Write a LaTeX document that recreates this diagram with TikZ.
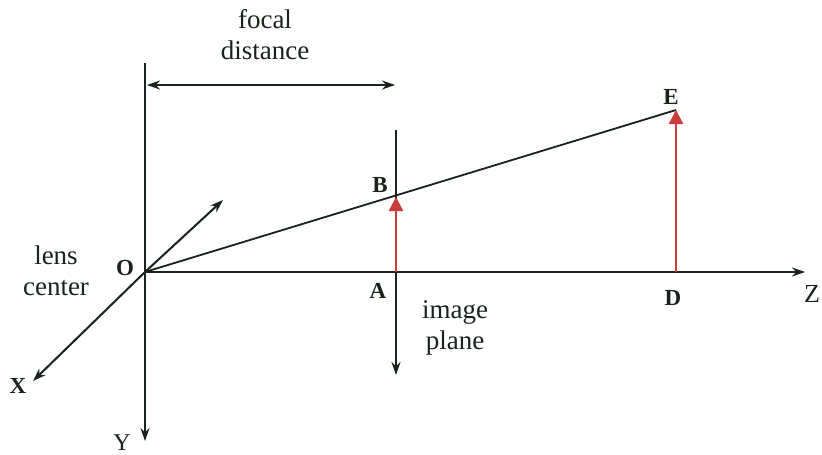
\documentclass[tikz,border=0pt]{standalone}
\usepackage{fontspec}
\setmainfont{Liberation Serif}
\usetikzlibrary{arrows.meta}
\definecolor{ink}{RGB}{25,35,28}
\definecolor{redarr}{RGB}{200,60,60}
\tikzset{
  axis/.style={draw=ink, line width=2pt, -{Stealth[length=13pt,width=9pt]}},
  redvec/.style={draw=redarr, line width=2.4pt, -{Triangle[length=14pt,width=14pt]}},
  lbl/.style={text=ink, font=\fontsize{23}{25}\selectfont\bfseries, inner sep=0pt},
  txt/.style={text=ink, font=\fontsize{27}{31}\selectfont, align=center, inner sep=0pt},
}
\begin{document}
\begin{tikzpicture}[x=1pt,y=-1pt]
\useasboundingbox (0,0) rectangle (822,455);
\fill[white] (0,0) rectangle (822,455);
% coordinates
\coordinate (O) at (145,272);
\coordinate (Ytop) at (145,63);
\coordinate (Yend) at (145,441);
\coordinate (Zend) at (805,272);
\coordinate (Xend) at (33,381);
\coordinate (short) at (223,200);
\coordinate (Ptop) at (396,130);
\coordinate (Pend) at (396,375);
\coordinate (A) at (396,272);
\coordinate (B) at (396,197);
\coordinate (D) at (676,272);
\coordinate (E) at (676,110);
\coordinate (F1) at (147,85);
\coordinate (F2) at (395,85);
% axes
\draw[axis] (Ytop) -- (Yend);
\draw[axis] (O) -- (Zend);
\draw[axis] (O) -- (Xend);
\draw[axis] (O) -- (short);
\draw[axis] (Ptop) -- (Pend);
\draw[draw=ink, line width=1.8pt] (O) -- (E);
\draw[draw=ink, line width=2pt, {Stealth[length=13pt,width=9pt]}-{Stealth[length=13pt,width=9pt]}] (F1) -- (F2);
% red vectors
\draw[redvec] (A) -- (B);
\draw[redvec] (D) -- (E);
% labels
\node[lbl] (lO) at (125,268) {O};
\node[lbl] (lA) at (378,291) {A};
\node[lbl] (lB) at (380,185) {B};
\node[lbl] (lD) at (673,298) {D};
\node[lbl] (lE) at (671,97) {E};
\node[lbl, font=\fontsize{26}{28}\selectfont] (lZ) at (812,294) {Z};
\node[lbl] (lX) at (18,386) {X};
\node[lbl, font=\fontsize{24}{26}\selectfont] (lY) at (122,443) {Y};
\node[txt] (focal) at (265,35) {focal\\distance};
\node[txt] (lens) at (56,271) {lens\\center};
\node[txt] (plane) at (455,328) {image\\plane};
\end{tikzpicture}
\end{document}
